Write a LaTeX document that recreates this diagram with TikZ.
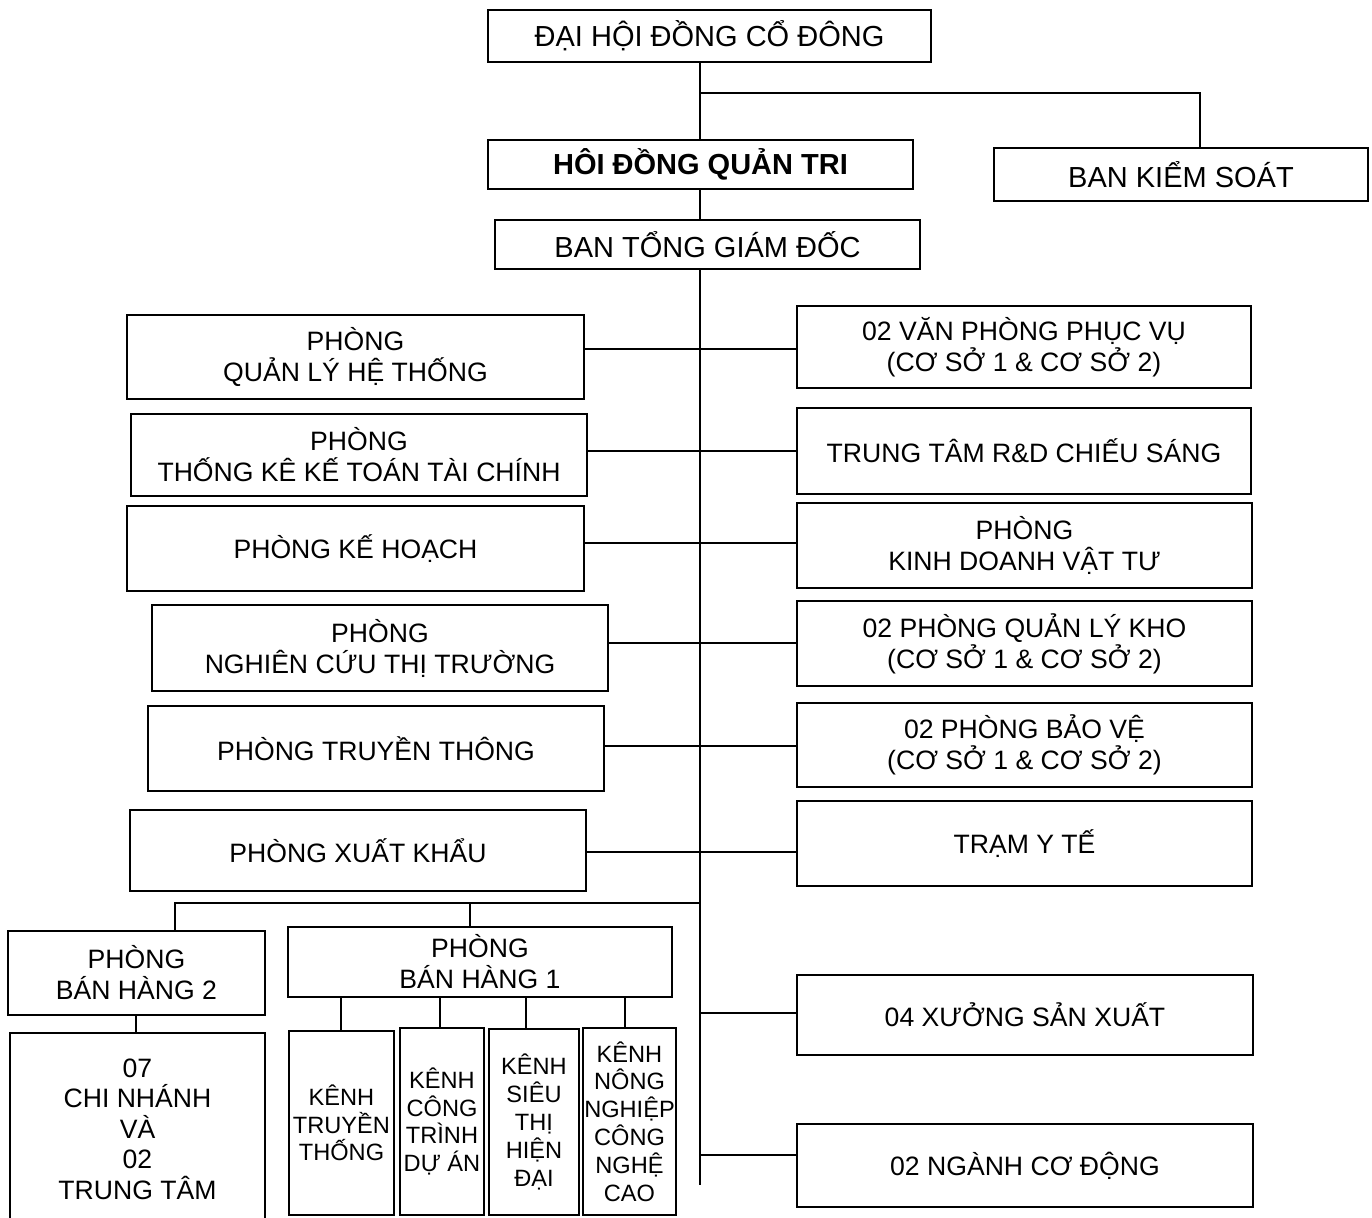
\documentclass[tikz,border=0pt]{standalone}
\usepackage{fontspec}
\setmainfont{Liberation Sans}
\newcommand\topfont{\fontsize{14.5}{17}\selectfont}
\newcommand\midfont{\fontsize{13.3}{15.5}\selectfont}
\newcommand\kfont{\fontsize{11.8}{13.9}\selectfont}
\newcommand\cnfont{\fontsize{13.3}{15.25}\selectfont}
\tikzset{
  box/.style={draw, line width=1pt, rectangle, inner sep=0pt, outer sep=0pt, align=center, font=\midfont},
  conn/.style={line width=0.8pt},
}
\newcommand\orgbox[7][]{\node[box,minimum width={(#5-#3)*0.5pt},minimum height={(#6-#4)*0.5pt},#1] (#2) at ({(#3+#5)/2},{(#4+#6)/2}) {#7};}
\begin{document}
\begin{tikzpicture}[x=0.5pt,y=-0.5pt]
\clip (0,0) rectangle (1372,1218);
\fill[white] (0,0) rectangle (1372,1218);
% top
\orgbox[font=\topfont]{DH}{488}{10}{931}{62}{ĐẠI HỘI ĐỒNG CỔ ĐÔNG}
\orgbox[font=\topfont\bfseries]{HD}{488}{140}{913}{189}{HÔI ĐỒNG QUẢN TRI}
\orgbox[font=\topfont]{BKS}{994}{148}{1368}{201}{BAN KIỂM SOÁT}
\orgbox[font=\topfont]{TGD}{495}{220}{920}{269}{BAN TỔNG GIÁM ĐỐC}
% left
\orgbox{L1}{127}{315}{584}{399}{PHÒNG\\QUẢN LÝ HỆ THỐNG}
\orgbox{L2}{131}{414}{587}{496}{PHÒNG\\THỐNG KÊ KẾ TOÁN TÀI CHÍNH}
\orgbox{L3}{127}{506}{584}{591}{PHÒNG KẾ HOẠCH}
\orgbox{L4}{152}{605}{608}{691}{PHÒNG\\NGHIÊN CỨU THỊ TRƯỜNG}
\orgbox{L5}{148}{706}{604}{791}{PHÒNG TRUYỀN THÔNG}
\orgbox{L6}{130}{810}{586}{891}{PHÒNG XUẤT KHẨU}
% right
\orgbox{R1}{797}{306}{1251}{388}{02 VĂN PHÒNG PHỤC VỤ\\(CƠ SỞ 1 \& CƠ SỞ 2)}
\orgbox{R2}{797}{408}{1251}{494}{TRUNG TÂM R\&D CHIẾU SÁNG}
\orgbox{R3}{797}{503}{1252}{588}{PHÒNG\\KINH DOANH VẬT TƯ}
\orgbox{R4}{797}{601}{1252}{686}{02 PHÒNG QUẢN LÝ KHO\\(CƠ SỞ 1 \& CƠ SỞ 2)}
\orgbox{R5}{797}{703}{1252}{787}{02 PHÒNG BẢO VỆ\\(CƠ SỞ 1 \& CƠ SỞ 2)}
\orgbox{R6}{797}{801}{1252}{886}{TRẠM Y TẾ}
\orgbox{R7}{797}{975}{1253}{1055}{04 XƯỞNG SẢN XUẤT}
\orgbox{R8}{797}{1124}{1253}{1207}{02 NGÀNH CƠ ĐỘNG}
% bottom left
\orgbox{PB2}{8}{931}{265}{1015}{PHÒNG\\BÁN HÀNG 2}
\orgbox[font=\cnfont]{CN}{10}{1033}{265}{1225}{07\\CHI NHÁNH\\VÀ\\02\\TRUNG TÂM}
\orgbox{PB1}{288}{927}{672}{997}{PHÒNG\\BÁN HÀNG 1}
\orgbox[font=\kfont]{K1}{289}{1031}{394}{1215}{KÊNH\\TRUYỀN\\THỐNG}
\orgbox[font=\kfont]{K2}{400}{1028}{484}{1215}{KÊNH\\CÔNG\\TRÌNH\\DỰ ÁN}
\orgbox[font=\kfont]{K3}{489}{1029}{579}{1215}{KÊNH\\SIÊU\\THỊ\\HIỆN\\ĐẠI}
\orgbox[font=\kfont]{K4}{583}{1028}{676}{1215}{KÊNH\\NÔNG\\NGHIỆP\\CÔNG\\NGHỆ\\CAO}
% spine coordinates
\coordinate (sp) at (700,1185);
\coordinate (j1) at (700,93);
\coordinate (j2) at (1200,93);
\draw[conn] (DH.south -| sp) -- (HD.north -| sp);
\draw[conn] (j1) -- (j2) -- (j2 |- BKS.north);
\draw[conn] (HD.south -| sp) -- (TGD.north -| sp);
\draw[conn] (TGD.south -| sp) -- (sp);
% side connectors
\coordinate (c1) at (700,349);
\coordinate (c2) at (700,451);
\coordinate (c3) at (700,543);
\coordinate (c4) at (700,643);
\coordinate (c5) at (700,746);
\coordinate (c6) at (700,852);
\draw[conn] (L1.east |- c1) -- (R1.west |- c1);
\draw[conn] (L2.east |- c2) -- (R2.west |- c2);
\draw[conn] (L3.east |- c3) -- (R3.west |- c3);
\draw[conn] (L4.east |- c4) -- (R4.west |- c4);
\draw[conn] (L5.east |- c5) -- (R5.west |- c5);
\draw[conn] (L6.east |- c6) -- (R6.west |- c6);
\coordinate (c7) at (700,1013);
\coordinate (c8) at (700,1155);
\draw[conn] (c7) -- (R7.west |- c7);
\draw[conn] (c8) -- (R8.west |- c8);
% sales branch
\coordinate (b0) at (700,903);
\coordinate (b1) at (175,903);
\coordinate (b2) at (470,903);
\draw[conn] (b0) -- (b1) -- (b1 |- PB2.north);
\draw[conn] (b2) -- (b2 |- PB1.north);
\coordinate (cnx) at (136,0);
\draw[conn] (PB2.south -| cnx) -- (CN.north -| cnx);
\coordinate (k1) at (341,0);
\coordinate (k2) at (440,0);
\coordinate (k3) at (526,0);
\coordinate (k4) at (625,0);
\draw[conn] (PB1.south -| k1) -- (K1.north -| k1);
\draw[conn] (PB1.south -| k2) -- (K2.north -| k2);
\draw[conn] (PB1.south -| k3) -- (K3.north -| k3);
\draw[conn] (PB1.south -| k4) -- (K4.north -| k4);
\end{tikzpicture}
\end{document}
